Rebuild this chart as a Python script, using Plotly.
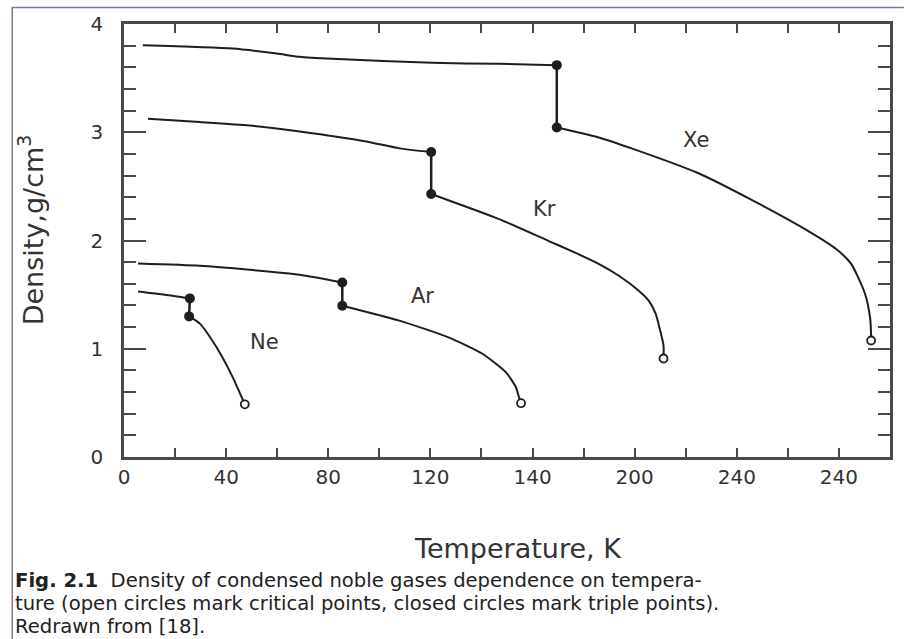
import plotly.graph_objects as go

# Temperature (axis units) and density (g/cm3)
# solid branch (up to the triple point) and liquid branch (triple point to critical point)
ne_solid_T = [5.5, 16.0, 25.8]
ne_solid_rho = [1.529, 1.499, 1.465]
ne_liq_T = [25.5, 29.7, 36.3, 42.6, 46.1, 47.3]
ne_liq_rho = [1.299, 1.232, 1.011, 0.736, 0.552, 0.487]

ar_solid_T = [5.5, 29.7, 49.2, 68.8, 85.5]
ar_solid_rho = [1.787, 1.766, 1.729, 1.683, 1.612]
ar_liq_T = [85.5, 107.8, 127.3, 140.2, 149.6, 153.5, 154.7, 155.5]
ar_liq_rho = [1.398, 1.260, 1.103, 0.956, 0.782, 0.644, 0.552, 0.497]

kr_solid_T = [9.4, 29.7, 49.2, 68.8, 94.9, 107.8, 120.3]
kr_solid_rho = [3.124, 3.094, 3.062, 3.007, 2.915, 2.851, 2.817]
kr_liq_T = [120.3, 146.9, 166.4, 176.9, 185.9, 193.8, 201.6, 205.5, 208.2, 209.8, 211.3, 211.3]
kr_liq_rho = [2.430, 2.198, 1.995, 1.885, 1.784, 1.674, 1.536, 1.444, 1.324, 1.186, 1.030, 0.910]

xe_solid_T = [7.4, 42.6, 59.8, 68.8, 81.6, 120.7, 146.9, 169.5]
xe_solid_rho = [3.804, 3.773, 3.727, 3.697, 3.678, 3.641, 3.632, 3.620]
xe_liq_T = [169.5, 185.9, 198.8, 225.0, 244.5, 268.0, 278.9, 284.8, 290.2, 292.2, 292.6, 292.6]
xe_liq_rho = [3.044, 2.952, 2.851, 2.621, 2.391, 2.087, 1.922, 1.784, 1.508, 1.287, 1.122, 1.076]

# triple points (closed circles, upper/lower pair per gas) and critical points (open circles)
triple_T = [25.8, 25.5, None, 85.5, 85.5, None, 120.3, 120.3, None, 169.5, 169.5]
triple_rho = [1.465, 1.299, None, 1.612, 1.398, None, 2.817, 2.430, None, 3.620, 3.044]
crit_T = [47.3, 155.5, 211.3, 292.6]
crit_rho = [0.487, 0.497, 0.910, 1.076]

gas_names = ["Xe", "Kr", "Ar", "Ne"]
label_T = [224.2, 164.5, 116.8, 55.1]
label_rho = [2.933, 2.29, 1.49, 1.06]

x_tickvals = [0, 40, 80, 120, 160, 200, 240, 280]
x_ticktext = ["0", "40", "80", "120", "140", "200", "240", "240"]
y_tickvals = [0, 1, 2, 3, 4]

caption_lines = [
    "<b>Fig. 2.1</b>  Density of condensed noble gases dependence on tempera-",
    "ture (open circles mark critical points, closed circles mark triple points).",
    "Redrawn from [18].",
]

LINE = "#1e1e1e"
AXIS = "#4a4a4a"
TXT = "#333333"
FONT = "DejaVu Sans, sans-serif"

fig = go.Figure()
branches = [
    (ne_solid_T, ne_solid_rho), (ne_liq_T, ne_liq_rho),
    (ar_solid_T, ar_solid_rho), (ar_liq_T, ar_liq_rho),
    (kr_solid_T, kr_solid_rho), (kr_liq_T, kr_liq_rho),
    (xe_solid_T, xe_solid_rho), (xe_liq_T, xe_liq_rho),
]
for T, rho in branches:
    fig.add_trace(go.Scatter(x=T, y=rho, mode="lines",
                             line=dict(color=LINE, width=2, shape="spline", smoothing=0.6),
                             hoverinfo="skip", showlegend=False))
fig.add_trace(go.Scatter(x=triple_T, y=triple_rho, mode="lines+markers",
                         line=dict(color=LINE, width=2.5), connectgaps=False,
                         marker=dict(color=LINE, size=10), showlegend=False))
fig.add_trace(go.Scatter(x=crit_T, y=crit_rho, mode="markers",
                         marker=dict(color="white", size=8, line=dict(color=LINE, width=1.8)),
                         showlegend=False))

for name, tx, ty in zip(gas_names, label_T, label_rho):
    fig.add_annotation(x=tx, y=ty, text=name, showarrow=False,
                       font=dict(family=FONT, size=21, color=TXT))

# page geometry helpers (plot area: x 124..892 px, y 22..457 px)
def px(x):
    return (x - 124) / 768.0

def py(y):
    return (457 - y) / 435.0

fig.add_annotation(xref="paper", yref="paper", x=px(519), y=py(549), text="Temperature, K",
                   showarrow=False, xanchor="center", yanchor="middle",
                   font=dict(family=FONT, size=27, color=TXT))
fig.add_annotation(xref="paper", yref="paper", x=px(30), y=py(229),
                   text="Density,g/cm<sup>3</sup>", textangle=-90,
                   showarrow=False, xanchor="center", yanchor="middle",
                   font=dict(family=FONT, size=27, color=TXT))
for i, line in enumerate(caption_lines):
    fig.add_annotation(xref="paper", yref="paper", x=px(13), y=py(581 + 23 * i), text=line,
                       showarrow=False, xanchor="left", yanchor="middle", align="left",
                       font=dict(family=FONT, size=19.6, color="#222222"))

# outer figure frame (left and top edges)
fig.add_shape(type="line", xref="paper", yref="paper", x0=px(12), x1=px(12), y0=py(5), y1=py(645),
              line=dict(color="#8c6f96", width=1.5))
fig.add_shape(type="line", xref="paper", yref="paper", x0=px(12), x1=px(906), y0=py(5.5), y1=py(5.5),
              line=dict(color="#8c6f96", width=1.5))

fig.update_layout(
    width=905, height=639,
    margin=dict(l=124, r=13, t=22, b=182),
    paper_bgcolor="white", plot_bgcolor="white",
    showlegend=False,
)
fig.update_xaxes(range=[0, 300], tickvals=x_tickvals, ticktext=x_ticktext,
                 ticks="inside", ticklen=9, tickwidth=2, tickcolor=AXIS,
                 minor=dict(dtick=20, tick0=0, ticks="inside", ticklen=9, tickwidth=2, tickcolor=AXIS),
                 showline=True, linecolor=AXIS, linewidth=2.5, mirror="ticks",
                 showgrid=False, zeroline=False, ticklabelstandoff=0,
                 tickfont=dict(family=FONT, size=20, color=TXT))
fig.update_yaxes(range=[0, 4], tickvals=y_tickvals,
                 ticks="inside", ticklen=22, tickwidth=2, tickcolor=AXIS,
                 minor=dict(dtick=0.2, tick0=0, ticks="inside", ticklen=12, tickwidth=2, tickcolor=AXIS),
                 showline=True, linecolor=AXIS, linewidth=2.5, mirror="ticks",
                 showgrid=False, zeroline=False, ticklabelstandoff=14,
                 tickfont=dict(family=FONT, size=20, color=TXT))

fig.write_html("out.html", config={"displayModeBar": False},
               post_script="document.body.style.margin='0';")
